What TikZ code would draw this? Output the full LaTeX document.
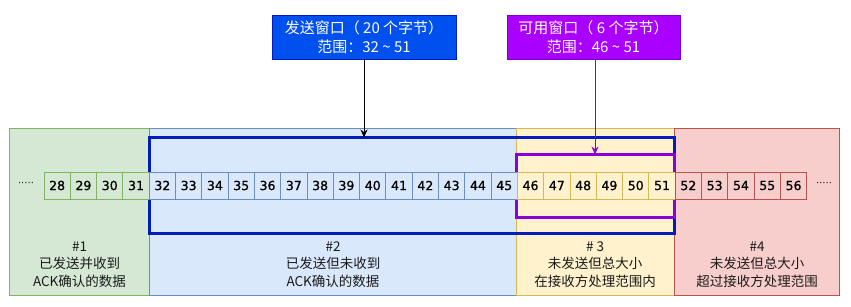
\documentclass[tikz,border=0pt]{standalone}
\usepackage{fontspec}
\setmainfont{DejaVu Sans}
\newfontfamily\cjk{Noto Sans CJK SC}
\newfontfamily\numfont{DejaVu Sans}[FakeBold=1]
\usetikzlibrary{arrows.meta}
\definecolor{gfill}{HTML}{D5E8D4}\definecolor{gline}{HTML}{82B366}
\definecolor{bfill}{HTML}{DAE8FC}\definecolor{bline}{HTML}{6C8EBF}
\definecolor{yfill}{HTML}{FFF2CC}\definecolor{yline}{HTML}{D6B656}
\definecolor{rfill}{HTML}{F8CECC}\definecolor{rline}{HTML}{B85450}
\definecolor{winblue}{HTML}{001DBC}\definecolor{boxblue}{HTML}{0050EF}
\definecolor{boxpurple}{HTML}{AA00FF}\definecolor{purpline}{HTML}{7700CC}
\definecolor{winpurple}{HTML}{8A00D8}
\definecolor{txt}{HTML}{1A1A1A}
\begin{document}
\begin{tikzpicture}[x=1pt,y=-1pt,
  region/.style={rectangle,inner sep=0,outer sep=0,line width=1pt,anchor=north west},
  cell/.style={rectangle,inner sep=0,outer sep=0,line width=0.9pt,minimum width=26.3pt,minimum height=27pt,
    font=\numfont\fontsize{12.5}{13}\selectfont,text=black},
  lab/.style={align=center,font=\cjk\fontsize{13.5}{17.8}\selectfont,text=txt},
  topbox/.style={rectangle,inner sep=0,outer sep=0,line width=1pt,anchor=north west,minimum height=44pt,
    align=center,text=white,font=\cjk\fontsize{15}{19.5}\selectfont},
  win/.style={rectangle,inner sep=0,outer sep=0,line width=3pt,fill=none,anchor=north west},
  dots/.style={font=\fontsize{10}{12}\selectfont,text=txt}]
\useasboundingbox (0,0) rectangle (851,306);
% regions
\node[region,fill=gfill,draw=gline,minimum width=140pt,minimum height=166.5pt] (r1) at (9.5,128.5) {};
\node[region,fill=bfill,draw=bline,minimum width=366.5pt,minimum height=166.5pt] (r2) at (149.5,128.5) {};
\node[region,fill=yfill,draw=yline,minimum width=158pt,minimum height=166.5pt] (r3) at (516,128.5) {};
\node[region,fill=rfill,draw=rline,minimum width=165.5pt,minimum height=166.5pt] (r4) at (674,128.5) {};
% windows
\node[win,draw=winblue,minimum width=524.5pt,minimum height=96pt] (w1) at (149.5,137.5) {};
\node[win,draw=winpurple,minimum width=158pt,minimum height=63pt] (w2) at (516,154.5) {};
% cells
\foreach \i in {28,...,56}{
  \pgfmathsetmacro{\cx}{44+26.3*(\i-28)+13.15}
  \ifnum\i<32
    \node[cell,fill=gfill,draw=gline] (c\i) at (\cx,185.5) {\i};
  \else\ifnum\i<46
    \node[cell,fill=bfill,draw=bline] (c\i) at (\cx,185.5) {\i};
  \else\ifnum\i<52
    \node[cell,fill=yfill,draw=yline] (c\i) at (\cx,185.5) {\i};
  \else
    \node[cell,fill=rfill,draw=rline] (c\i) at (\cx,185.5) {\i};
  \fi\fi\fi
}
\node[dots] (dl) at (26,184) {·····};
\node[dots] (dr) at (824,184) {·····};
% labels
\node[lab] (l1) at (79.5,264.5) {\#1\\已发送并收到\\ACK确认的数据};
\node[lab] (l2) at (333,264.5) {\#2\\已发送但未收到\\ACK确认的数据};
\node[lab] (l3) at (595,264.5) {\# 3\\未发送但总大小\\在接收方处理范围内};
\node[lab] (l4) at (757,264.5) {\#4\\未发送但总大小\\超过接收方处理范围};
% top boxes
\node[topbox,fill=boxblue,draw=winblue,minimum width=184pt] (b1) at (272,15) {发送窗口（ 20 个字节）\\范围：32 \textasciitilde{} 51};
\node[topbox,fill=boxpurple,draw=purpline,minimum width=173pt] (b2) at (507,15) {可用窗口（ 6 个字节）\\范围：46 \textasciitilde{} 51};
% arrows
\draw[line width=1pt,-{Stealth[length=8pt,width=7pt]}] (b1.south) -- (b1.south |- w1.north);
\draw[line width=1pt,draw=winpurple,-{Stealth[length=8pt,width=7pt]}] (w2.north |- b2.south) -- (w2.north);
\end{tikzpicture}
\end{document}
